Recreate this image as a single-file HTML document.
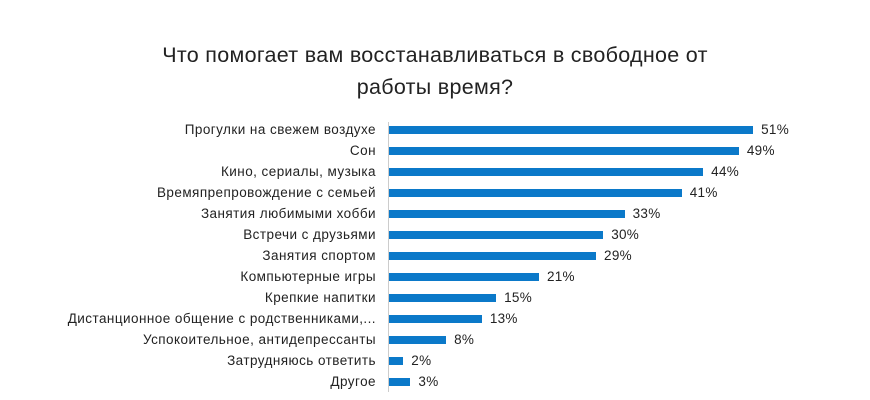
<!DOCTYPE html>
<html><head><meta charset="utf-8"><style>
body{margin:0;width:870px;height:400px;background:#fff;font-family:"Liberation Sans",sans-serif;overflow:hidden;position:relative}
.t{position:absolute;left:0;width:870px;text-align:center;font-size:21.5px;color:#222;top:39px;line-height:32px;letter-spacing:0.3px}
.l{position:absolute;right:494px;font-size:13.5px;color:#222;white-space:nowrap;line-height:14px;letter-spacing:0.45px}
.b{position:absolute;left:389px;height:8px;background:#0b79c9}
.v{position:absolute;font-size:13.5px;color:#222;line-height:14px;letter-spacing:0.3px}
.ax{position:absolute;left:388px;top:122px;width:1px;height:270px;background:#ccc}
</style></head><body>
<div class="t">Что помогает вам восстанавливаться в свободное от<br>работы время?</div>
<div class="ax"></div>
<div id="c"></div>
<script>
var d=[["Прогулки на свежем воздухе",51],["Сон",49],["Кино, сериалы, музыка",44],["Времяпрепровождение с семьей",41],["Занятия любимыми хобби",33],["Встречи с друзьями",30],["Занятия спортом",29],["Компьютерные игры",21],["Крепкие напитки",15],["Дистанционное общение с родственниками,...",13],["Успокоительное, антидепрессанты",8],["Затрудняюсь ответить",2],["Другое",3]];
var h="";d.forEach(function(r,i){var y=126+i*21,w=r[1]*7.14;
h+='<div class="l" style="top:'+(y-3)+'px">'+r[0]+'</div><div class="b" style="top:'+y+'px;width:'+w+'px"></div><div class="v" style="top:'+(y-3)+'px;left:'+(389+w+8)+'px">'+r[1]+'%</div>';});
document.getElementById("c").innerHTML=h;
</script>
</body></html>
